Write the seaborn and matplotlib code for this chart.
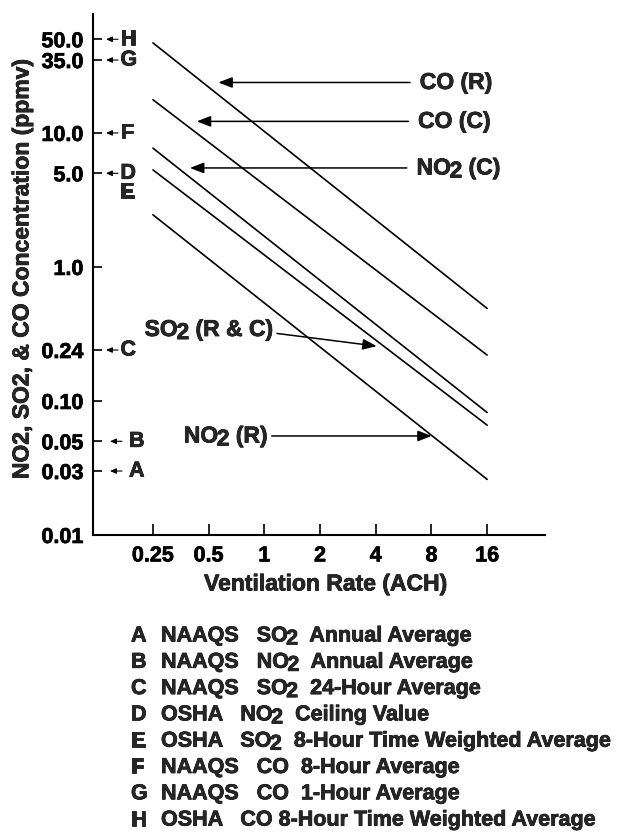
import re
import matplotlib
matplotlib.use("Agg")
import matplotlib.pyplot as plt
import matplotlib.patheffects as pe
from matplotlib.ticker import NullLocator
import pandas as pd
import seaborn as sns

# Ventilation rates (air changes per hour) at the two ends of every line
ach_endpoints = [0.25, 16]

# Indoor concentration lines (R = residential, C = commercial)
series_names = ["CO (R)", "CO (C)", "NO2 (C)", "SO2 (R & C)", "NO2 (R)"]
conc_at_low_ach = [47.0, 17.7, 7.7, 5.3, 2.45]
conc_at_high_ach = [0.49, 0.22, 0.082, 0.066, 0.026]

x_ticks = [0.25, 0.5, 1, 2, 4, 8, 16]
x_tick_labels = ["0.25", "0.5", "1", "2", "4", "8", "16"]
y_ticks = [50.0, 35.0, 10.0, 5.0, 1.0, 0.24, 0.10, 0.05, 0.03, 0.01]
y_tick_labels = ["50.0", "35.0", "10.0", "5.0", "1.0", "0.24", "0.10",
                 "0.05", "0.03", "0.01"]

# Air-quality standards marked along the concentration axis
limit_keys = ["A", "B", "C", "D", "E", "F", "G", "H"]
limit_values = [0.03, 0.05, 0.24, 5.0, 5.0, 10.0, 35.0, 50.0]
limit_descriptions = [
    "NAAQS   SO2  Annual Average",
    "NAAQS   NO2  Annual Average",
    "NAAQS   SO2  24-Hour Average",
    "OSHA   NO2  Ceiling Value",
    "OSHA   SO2  8-Hour Time Weighted Average",
    "NAAQS   CO  8-Hour Average",
    "NAAQS   CO  1-Hour Average",
    "OSHA   CO 8-Hour Time Weighted Average",
]

sns.set_style("ticks")
plt.rcParams["font.family"] = ["Liberation Sans", "DejaVu Sans"]
plt.rcParams["font.weight"] = "bold"
plt.rcParams["axes.labelweight"] = "bold"

# slightly heavier lettering
HEAVY = [pe.withStroke(linewidth=0.5, foreground="black")]

W, H, DPI = 636, 832, 100
fig = plt.figure(figsize=(W / DPI, H / DPI), dpi=DPI)
ax = fig.add_axes([0.1467, 0.357, 0.7107, 0.626])
ax.set_xscale("log", base=2)
ax.set_yscale("log")

rows = []
for name, lo, hi in zip(series_names, conc_at_low_ach, conc_at_high_ach):
    rows.append({"ach": ach_endpoints[0], "conc": lo, "series": name})
    rows.append({"ach": ach_endpoints[1], "conc": hi, "series": name})
df = pd.DataFrame(rows)

sns.lineplot(data=df, x="ach", y="conc", hue="series",
             palette=["black"] * len(series_names), legend=False,
             estimator=None, linewidth=1.2, ax=ax)

ax.set_xlim(0.119, 33)
ax.set_ylim(0.01, 77)

ax.set_xticks(x_ticks, x_tick_labels)
ax.set_yticks(y_ticks, y_tick_labels)
ax.xaxis.set_minor_locator(NullLocator())
ax.yaxis.set_minor_locator(NullLocator())
ax.tick_params(axis="x", direction="in", length=8, width=1.2, pad=7.5,
               labelsize=15.5, colors="black")
ax.tick_params(axis="y", direction="in", length=6.5, width=1.2, pad=7,
               labelsize=15.5, colors="black")
for lab in ax.get_xticklabels() + ax.get_yticklabels():
    lab.set_fontweight("bold")
    lab.set_path_effects(HEAVY)

for side in ("top", "right"):
    ax.spines[side].set_visible(False)
for side in ("left", "bottom"):
    ax.spines[side].set_linewidth(1.5)
    ax.spines[side].set_color("black")

ax.set_xlabel("Ventilation Rate (ACH)", fontsize=16.5, fontweight="bold")
ax.xaxis.set_label_coords(0.513, -0.094)
ax.xaxis.label.set_va("center")
ax.xaxis.label.set_path_effects(HEAVY)
ax.set_ylabel("NO2, SO2, & CO Concentration (ppmv)", fontsize=16.5,
              fontweight="bold")
ax.yaxis.set_label_coords(-0.158, 0.509)
ax.yaxis.label.set_va("center")
ax.yaxis.label.set_path_effects(HEAVY)


def chem_text(xy, text, coords, size=16.5, drop=2.2, dx=0.0):
    """Draw text whose O2 '2' sits slightly below the baseline."""
    pieces = [p for p in re.split(r"(?<=O)(2)", text) if p]
    first = ax.annotate(pieces[0], xy=xy, xycoords=coords, xytext=(dx, 0),
                        textcoords="offset points", ha="left", va="center",
                        fontsize=size, fontweight="bold",
                        annotation_clip=False, path_effects=HEAVY)
    chain = [first]
    lowered = False
    for p in pieces[1:]:
        kern = 0.0
        if p == "2":
            dy, lowered, kern = -drop, True, -0.8
        elif lowered:
            dy, lowered = drop, False
        else:
            dy = 0
        t = ax.annotate(p, xy=(1, 0), xycoords=chain[-1], xytext=(kern, dy),
                        textcoords="offset points", ha="left", va="bottom",
                        fontsize=size, fontweight="bold",
                        annotation_clip=False, path_effects=HEAVY)
        chain.append(t)
    return chain


# Callouts naming each line: (label, arrow tail, arrow tip, label side)
callouts = [
    ("CO (R)", (6.13, 23.8), (0.564, 23.8), "right"),
    ("CO (C)", (6.0, 12.2), (0.431, 12.2), "right"),
    ("NO2 (C)", (5.89, 5.48), (0.396, 5.48), "right"),
    ("SO2 (R & C)", (1.171, 0.319), (4.05, 0.2566), "left"),
    ("NO2 (R)", (1.096, 0.0548), (8.03, 0.0548), "left"),
]
big_head = dict(arrowstyle="-|>,head_length=0.7,head_width=0.27",
                mutation_scale=12, lw=1.1, color="black",
                shrinkA=0, shrinkB=0)
right_aligned = []
for label, tail, tip, side in callouts:
    ax.annotate("", xy=tip, xytext=tail, xycoords="data",
                arrowprops=big_head)
    if side == "right":
        chem_text(tail, label, "data", dx=7)
    else:
        ty = tail[1] * 1.07 if "SO2" in label else tail[1]
        right_aligned.append(chem_text((tail[0], ty), label, "data", dx=-3))

# Standards along the concentration axis
ytr = ax.get_yaxis_transform()
small_head = dict(arrowstyle="-|>,head_length=0.45,head_width=0.2",
                  mutation_scale=8, lw=0.8, color="black",
                  shrinkA=0, shrinkB=0)
marked = set()
for key, val in zip(limit_keys, limit_values):
    if val in marked:
        ax.annotate(key, xy=(0.0591, val), xycoords=ytr, xytext=(0, -13.7),
                    textcoords="offset points", ha="left", va="center",
                    fontsize=15.5, fontweight="bold", path_effects=HEAVY)
        continue
    marked.add(val)
    if val < 0.1:
        tail_x, tip_x, key_x = 0.0635, 0.0370, 0.079
    else:
        tail_x, tip_x, key_x = 0.0547, 0.0281, 0.0600
    ax.annotate("", xy=(tip_x, val), xytext=(tail_x, val), xycoords=ytr,
                arrowprops=small_head)
    ax.text(key_x, val, key, transform=ytr, ha="left", va="center",
            fontsize=15.5, fontweight="bold", path_effects=HEAVY)

# Key to the standards, below the chart
for i, (key, desc) in enumerate(zip(limit_keys, limit_descriptions)):
    yc = H - (636 + 26.3 * i)
    ax.annotate(key, xy=(131, yc), xycoords="figure pixels", ha="left",
                va="center", fontsize=15.5, fontweight="bold",
                annotation_clip=False, path_effects=HEAVY)
    chem_text((161, yc), desc, "figure pixels", size=15.5)

# Right-align the callouts that sit to the left of their arrows
fig.canvas.draw()
for chain in right_aligned:
    x0 = chain[0].get_window_extent().x0
    x1 = max(t.get_window_extent().x1 for t in chain)
    width_pt = (x1 - x0) * 72.0 / DPI
    chain[0].xyann = (-3 - width_pt, 0)

fig.savefig("out.png", dpi=DPI, facecolor="white")
